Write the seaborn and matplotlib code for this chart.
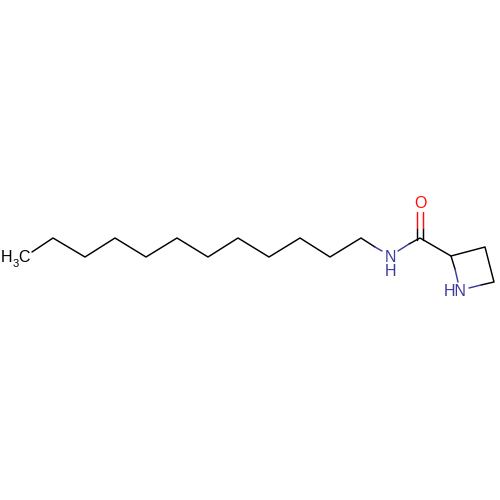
import pandas as pd
import matplotlib.pyplot as plt
import seaborn as sns

# bond polylines in picture pixels, split where the colour changes
chain_x = [32, 53, 85, 115, 146, 177, 208, 238, 269, 300, 330, 361, 375]
chain_y = [252, 238, 257, 238, 257, 238, 257, 238, 257, 238, 257, 238, 247]
amide_n_left_x = [375, 382]
amide_n_left_y = [247, 251]
amide_n_right_x = [398, 409]
amide_n_right_y = [251, 244]
carbonyl_x = [409, 420, 451, 485, 494, 481]
carbonyl_y = [244, 238, 256, 247, 282, 285]
ring_n_bottom_x = [481, 469]
ring_n_bottom_y = [285, 288]
ring_n_left_x = [451, 455]
ring_n_left_y = [256, 269]
ring_n_left2_x = [455, 458]
ring_n_left2_y = [269, 282]
co_left_black_x = [417, 417]
co_left_black_y = [240, 228]
co_left_red_x = [417, 417]
co_left_red_y = [228, 212]
co_right_black_x = [423, 423]
co_right_black_y = [240, 228]
co_right_red_x = [423, 423]
co_right_red_y = [228, 212]

BLACK = '#000000'
BLUE = '#3B3B9E'
RED = '#FF0D0D'


def bond_frame():
    """Collect every bond piece into one long table."""
    pieces = [
        (chain_x, chain_y, BLACK),
        (amide_n_left_x, amide_n_left_y, BLUE),
        (amide_n_right_x, amide_n_right_y, BLUE),
        (carbonyl_x, carbonyl_y, BLACK),
        (ring_n_bottom_x, ring_n_bottom_y, BLUE),
        (ring_n_left_x, ring_n_left_y, BLACK),
        (ring_n_left2_x, ring_n_left2_y, BLUE),
        (co_left_black_x, co_left_black_y, BLACK),
        (co_left_red_x, co_left_red_y, RED),
        (co_right_black_x, co_right_black_y, BLACK),
        (co_right_red_x, co_right_red_y, RED),
    ]
    rows = []
    for i, (xs, ys, colour) in enumerate(pieces):
        for order, (x, y) in enumerate(zip(xs, ys)):
            rows.append({'bond': i, 'order': order, 'x': x, 'y': y, 'colour': colour})
    return pd.DataFrame(rows)


sns.set_theme(style='white')
plt.rcParams['font.family'] = ['Liberation Sans']

fig, ax = plt.subplots(figsize=(5, 5), dpi=100)
fig.subplots_adjust(left=0, right=1, bottom=0, top=1)

bonds = bond_frame()
sns.lineplot(
    data=bonds, x='x', y='y', hue='colour', units='bond',
    palette={BLACK: BLACK, BLUE: BLUE, RED: RED},
    estimator=None, sort=False, legend=False, linewidth=1.05, ax=ax
)

ax.set_xlim(0, 500)
ax.set_ylim(500, 0)
ax.axis('off')

label_size = 11.5
ax.text(420, 204, 'O', color=RED, fontsize=label_size, ha='center', va='center')
ax.text(390, 257, 'N', color=BLUE, fontsize=label_size, ha='center', va='center')
ax.text(390, 271, 'H', color=BLUE, fontsize=label_size, ha='center', va='center')
ax.text(455, 291, 'HN', color=BLUE, fontsize=label_size, ha='center', va='center')
ax.text(7, 258, 'H', color=BLACK, fontsize=label_size, ha='center', va='center')
ax.text(15.5, 264, '3', color=BLACK, fontsize=8, ha='center', va='center')
ax.text(24, 258, 'C', color=BLACK, fontsize=label_size, ha='center', va='center')

fig.savefig('out.png', dpi=100)
plt.close(fig)
